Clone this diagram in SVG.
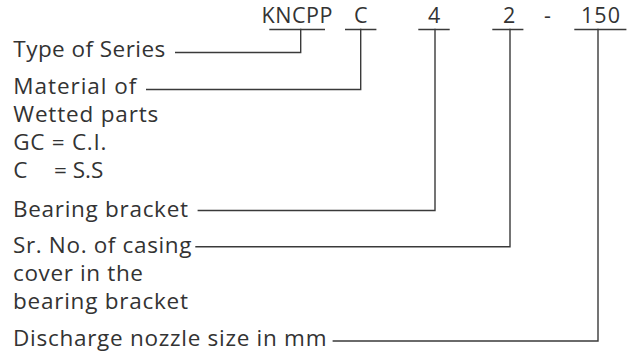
<svg xmlns="http://www.w3.org/2000/svg" width="638" height="355" viewBox="0 0 638 355">
<style>
text{font-family:"Open Sans","Noto Sans","Liberation Sans",sans-serif;font-size:22.5px;fill:#333333}
.top{font-size:21.5px}
.ln{fill:none;stroke:#3a3a3a;stroke-width:1.4;stroke-linecap:square}
</style>
<rect width="638" height="355" fill="#ffffff"/>
<g id="code">
<text class="top" x="261.5" y="22.5" textLength="71">KNCPP</text>
<text class="top" x="354" y="22.5">C</text>
<text class="top" x="428" y="22.5">4</text>
<text class="top" x="503" y="22.5">2</text>
<text class="top" x="544" y="22.5">-</text>
<text class="top" x="581" y="22.5" textLength="39">150</text>
</g>
<g id="underlines">
<path class="ln" d="M270 29.5H324.3M345.7 29.5H375.7M419 29.5H449M493 29.5H522.7M575 29.5H625.7"/>
</g>
<g id="series"><text x="13.3" y="56.7" textLength="152">Type of Series</text></g>
<g id="material">
<text x="13.3" y="94" textLength="123">Material of</text>
<text x="13.3" y="122" textLength="145">Wetted parts</text>
<text x="13.3" y="150" textLength="93">GC = C.I.</text>
<text y="178"><tspan x="13.3">C</tspan><tspan x="54">= S.S</tspan></text>
</g>
<g id="bearing"><text x="13" y="216.7" textLength="175">Bearing bracket</text></g>
<g id="srno">
<text x="13" y="252.7" textLength="178.5">Sr. No. of casing</text>
<text x="13" y="280.7" textLength="130">cover in the</text>
<text x="13" y="309.3" textLength="175">bearing bracket</text>
</g>
<g id="discharge"><text x="13" y="346" textLength="313.5">Discharge nozzle size in mm</text></g>
<g id="connectors">
<path class="ln" d="M175.7 52.5H300.7V29.5"/>
<path class="ln" d="M146.7 89.5H360.7V29.5"/>
<path class="ln" d="M198.3 210.5H435V29.5"/>
<path class="ln" d="M196 246.7H510V29.5"/>
<path class="ln" d="M333.3 341H598V29.5"/>
</g>
</svg>
